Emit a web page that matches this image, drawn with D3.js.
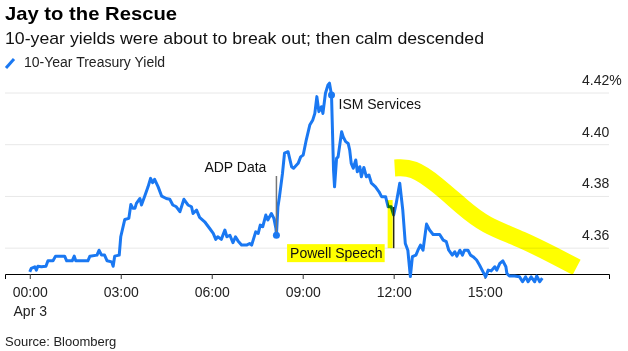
<!DOCTYPE html>
<html>
<head>
<meta charset="utf-8">
<script src="https://cdn.jsdelivr.net/npm/d3@7"></script>
<style>
  body { margin: 0; background: #fff; }
  svg { display: block; font-family: "Liberation Sans", Arial, sans-serif; }
</style>
</head>
<body>
<svg id="chart" width="628" height="351"></svg>
<script>
// minutes after midnight (Apr 3) and 10-year yield
var minutes = [0, 3, 10, 13, 16, 23, 32, 36, 46, 51, 69, 73, 84, 88, 91, 115, 119, 133, 137, 142,
  148, 153, 162, 165, 168, 177, 180, 188, 196, 200, 204, 208, 211, 218, 221, 227, 234, 239, 243, 247,
  254, 261, 270, 277, 283, 290, 297, 305, 313, 320, 323, 330, 336, 346, 356, 363, 368, 372, 379, 386,
  390, 396, 402, 407, 412, 419, 429, 435, 439, 442, 447, 452, 456, 461, 467, 471, 478, 483, 487, 488,
  491, 494, 500, 504, 511, 518, 522, 531, 536, 541, 547, 554, 560, 564, 568, 572, 577, 580, 585, 590,
  593, 597, 601, 603, 607, 610, 617, 620, 625, 630, 633, 636, 640, 645, 648, 653, 656, 661, 666, 671,
  676, 684, 691, 696, 704, 709, 715, 720, 725, 732, 738, 743, 748, 753, 757, 764, 768, 773, 778, 785,
  791, 798, 811, 818, 824, 829, 836, 841, 845, 851, 856, 860, 867, 872, 877, 884, 890, 895, 902, 907,
  913, 920, 924, 930, 936, 942, 944, 949, 959, 969, 975, 981, 986, 992, 999, 1003, 1009, 1014]

var yields = [4.3508, 4.3522, 4.3528, 4.3515, 4.3530, 4.3528, 4.3530, 4.3551, 4.3551, 4.3569, 4.3569, 4.3551, 4.3551, 4.3569, 4.3551, 4.3551, 4.3569, 4.3573, 4.3592, 4.3573,
  4.3573, 4.3551, 4.3547, 4.3530, 4.3569, 4.3573, 4.3644, 4.3711, 4.3715, 4.3769, 4.3754, 4.3754, 4.3773, 4.3792, 4.3767, 4.3799, 4.3837, 4.3870, 4.3853, 4.3866,
  4.3837, 4.3801, 4.3792, 4.3789, 4.3767, 4.3760, 4.3741, 4.3789, 4.3767, 4.3760, 4.3734, 4.3747, 4.3719, 4.3702, 4.3676, 4.3657, 4.3634, 4.3644, 4.3634, 4.3670,
  4.3644, 4.3650, 4.3621, 4.3644, 4.3628, 4.3612, 4.3612, 4.3618, 4.3612, 4.3631, 4.3663, 4.3657, 4.3689, 4.3683, 4.3728, 4.3709, 4.3734, 4.3715, 4.3676, 4.3650,
  4.3760, 4.3799, 4.3889, 4.3967, 4.3973, 4.3915, 4.3909, 4.3928, 4.3953, 4.3960, 4.4018, 4.4076, 4.4096, 4.4121, 4.4186, 4.4128, 4.4147, 4.4121, 4.4199, 4.4231,
  4.4238, 4.4192, 4.3902, 4.3837, 4.3947, 4.3953, 4.4050, 4.4031, 4.4012, 4.4005, 4.3979, 4.3928, 4.3909, 4.3941, 4.3895, 4.3915, 4.3876, 4.3912, 4.3876, 4.3883,
  4.3851, 4.3837, 4.3818, 4.3799, 4.3799, 4.3760, 4.3760, 4.3728, 4.3773, 4.3851, 4.3747, 4.3618, 4.3592, 4.3490, 4.3567, 4.3573, 4.3592, 4.3612, 4.3592, 4.3693,
  4.3670, 4.3653, 4.3653, 4.3631, 4.3625, 4.3592, 4.3573, 4.3586, 4.3569, 4.3592, 4.3573, 4.3592, 4.3592, 4.3573, 4.3567, 4.3554, 4.3534, 4.3515, 4.3489, 4.3515,
  4.3512, 4.3528, 4.3515, 4.3541, 4.3551, 4.3528, 4.3502, 4.3492, 4.3492, 4.3489, 4.3470, 4.3489, 4.3470, 4.3489, 4.3470, 4.3492, 4.3470, 4.3484]

var xTicks = [0, 180, 360, 540, 720, 900]
var xTickLabels = ['00:00', '03:00', '06:00', '09:00', '12:00', '15:00']
var yTicks = [4.36, 4.38, 4.40, 4.42]
var yTickLabels = ['4.36', '4.38', '4.40', '4.42%']

// annotations: time, yield of the marked point
var adp = { label: 'ADP Data', minute: 488, value: 4.3650, top: 4.3879 }
var ism = { label: 'ISM Services', minute: 597, value: 4.4192 }
var powell = { label: 'Powell Speech', minute: 720, top: 4.3759, bottom: 4.3600 }

// hand-drawn yellow highlighter stroke (time, yield)
var markerMinutes = [722, 758, 805, 856, 900, 973, 1044, 1082]
var markerYields = [4.3910, 4.3914, 4.3848, 4.3759, 4.3689, 4.3635, 4.3565, 4.3526]
var powellMarker = { minute: 713, top: 4.3786, bottom: 4.3600 }

var svg = d3.select('#chart')
var blue = '#1a78f2'

var x = d3.scaleLinear().domain([-49, 1146]).range([5, 609])
var y = d3.scaleLinear().domain([4.35, 4.42]).range([274, 93])

// title block
svg.append('text').attr('x', 5).attr('y', 20)
  .attr('font-size', 19).attr('font-weight', 'bold').attr('fill', '#000')
  .attr('textLength', 172).attr('lengthAdjust', 'spacingAndGlyphs')
  .text('Jay to the Rescue')
svg.append('text').attr('x', 5).attr('y', 44)
  .attr('font-size', 17).attr('fill', '#111')
  .attr('textLength', 479).attr('lengthAdjust', 'spacingAndGlyphs')
  .text('10-year yields were about to break out; then calm descended')

svg.append('line').attr('x1', 6).attr('y1', 68).attr('x2', 14).attr('y2', 59)
  .attr('stroke', blue).attr('stroke-width', 3)
svg.append('text').attr('x', 24).attr('y', 67)
  .attr('font-size', 14).attr('fill', '#222')
  .text('10-Year Treasury Yield')

// grid + y labels
var gGrid = svg.append('g')
gGrid.selectAll('line').data(yTicks).enter().append('line')
  .attr('x1', 5).attr('x2', 609)
  .attr('y1', function (d) { return y(d) }).attr('y2', function (d) { return y(d) })
  .attr('stroke', '#e8e8e8').attr('stroke-width', 1)
gGrid.selectAll('text').data(yTicks).enter().append('text')
  .attr('x', 582).attr('y', function (d) { return y(d) - 8 })
  .attr('font-size', 14).attr('fill', '#222')
  .text(function (d, i) { return yTickLabels[i] })

// x axis
var gX = svg.append('g').attr('transform', 'translate(0,' + y(4.35) + ')')
gX.call(d3.axisBottom(x).tickValues(xTicks).tickSize(5).tickFormat(function (d, i) { return xTickLabels[i] }))
gX.select('.domain').attr('stroke', '#000')
gX.selectAll('.tick line').attr('stroke', '#333')
gX.selectAll('.tick text').attr('font-size', 14).attr('fill', '#222')
  .attr('font-family', '"Liberation Sans", Arial, sans-serif').attr('y', 19).attr('dy', '0.32em')
gX.select('.tick text').append('tspan').attr('x', 0).attr('dy', '1.3em').text('Apr 3')

// series
var line = d3.line()
  .x(function (d) { return x(d) })
  .y(function (d, i) { return y(yields[i]) })
svg.append('path').datum(minutes)
  .attr('fill', 'none').attr('stroke', blue)
  .attr('stroke-width', 3).attr('stroke-linejoin', 'round')
  .attr('d', line)

// ADP
svg.append('line').attr('x1', x(adp.minute)).attr('x2', x(adp.minute))
  .attr('y1', y(adp.top)).attr('y2', y(adp.value))
  .attr('stroke', '#777').attr('stroke-width', 1.5)
svg.append('circle').attr('cx', x(adp.minute)).attr('cy', y(adp.value)).attr('r', 3.5).attr('fill', blue)
svg.append('text').attr('x', x(adp.minute) - 10).attr('y', y(adp.top) - 4)
  .attr('text-anchor', 'end').attr('font-size', 14).attr('fill', '#111').text(adp.label)

// ISM
svg.append('circle').attr('cx', x(ism.minute)).attr('cy', y(ism.value)).attr('r', 3.5).attr('fill', blue)
svg.append('text').attr('x', x(ism.minute) + 7).attr('y', y(ism.value) + 14)
  .attr('font-size', 14).attr('fill', '#111').text(ism.label)

// Powell label on a yellow box
var gPowell = svg.append('g')
var pBox = gPowell.append('rect').attr('fill', '#ffff00')
var pText = gPowell.append('text').attr('x', x(powell.minute) - 11).attr('y', y(powell.bottom) + 10)
  .attr('text-anchor', 'end').attr('font-size', 14).attr('fill', '#111').text(powell.label)
var bb = pText.node().getBBox()
pBox.attr('x', bb.x - 3).attr('y', bb.y - 1).attr('width', bb.width + 5).attr('height', bb.height + 2)

// yellow highlighter marks (multiply so the blue line turns green under them)
var markerLine = d3.line().curve(d3.curveBasis)
  .x(function (d) { return x(d[0]) })
  .y(function (d) { return y(d[1]) })
var gMark = svg.append('g').style('mix-blend-mode', 'multiply')
gMark.append('path')
  .datum(d3.zip(markerMinutes, markerYields))
  .attr('fill', 'none').attr('stroke', '#ffff00')
  .attr('stroke-width', 17).attr('stroke-linecap', 'butt')
  .attr('d', markerLine)
gMark.append('line')
  .attr('x1', x(powellMarker.minute)).attr('x2', x(powellMarker.minute))
  .attr('y1', y(powellMarker.top)).attr('y2', y(powellMarker.bottom))
  .attr('stroke', '#ffff00').attr('stroke-width', 5)

svg.append('line').attr('x1', x(powell.minute)).attr('x2', x(powell.minute))
  .attr('y1', y(powell.top)).attr('y2', y(powell.bottom))
  .attr('stroke', '#2a2a10').attr('stroke-width', 1.5)

// source
svg.append('text').attr('x', 5).attr('y', 346)
  .attr('font-size', 13).attr('fill', '#222').text('Source: Bloomberg')
</script>
</body>
</html>
